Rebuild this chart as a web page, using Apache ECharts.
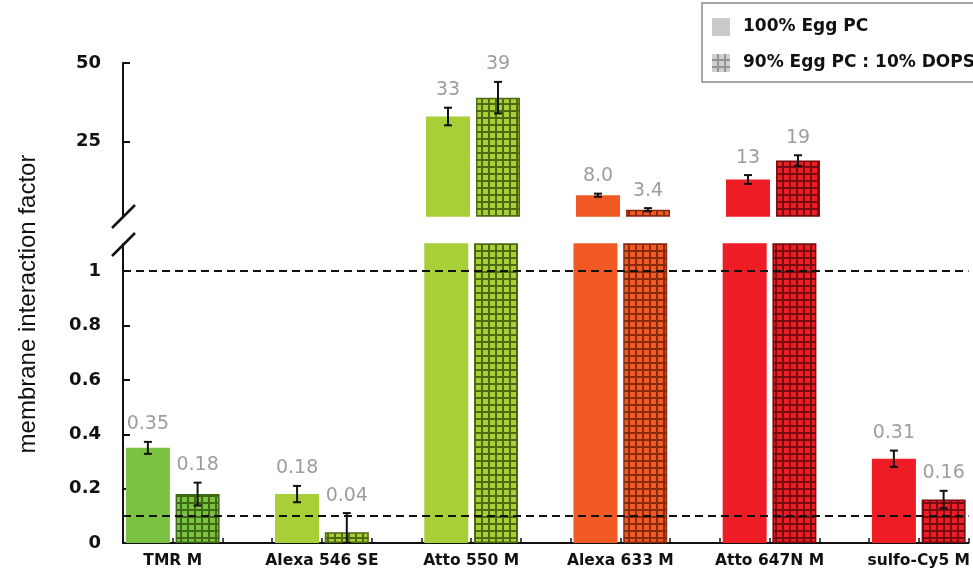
<!DOCTYPE html>
<html>
<head>
<meta charset="utf-8">
<script src="https://cdn.jsdelivr.net/npm/echarts@6/dist/echarts.min.js"></script>
<style>
  html, body { margin: 0; padding: 0; background: #fff; }
  #main { width: 973px; height: 573px; }
</style>
</head>
<body>
<div id="main"></div>
<script>
const groups = ['TMR M', 'Alexa 546 SE', 'Atto 550 M', 'Alexa 633 M', 'Atto 647N M', 'sulfo-Cy5 M']
const eggPC = [0.35, 0.18, 33, 8.0, 13, 0.31]
const eggPCErr = [0.022, 0.03, 2.8, 0.5, 1.4, 0.03]
const eggPCText = ['0.35', '0.18', '33', '8.0', '13', '0.31']
const dops = [0.18, 0.04, 39, 3.4, 19, 0.16]
const dopsErr = [0.042, 0.07, 5, 0.5, 1.7, 0.032]
const dopsText = ['0.18', '0.04', '39', '3.4', '19', '0.16']
const lowerTicks = [0, 0.2, 0.4, 0.6, 0.8, 1]
const upperTicks = [25, 50]
const refLines = [1, 0.1]

const fills = ['#7cc242', '#a8cf38', '#a8cf38', '#f15a24', '#ee1d25', '#ee1d25']
const darks = ['#3e6a16', '#4d6a10', '#4d6a10', '#8a2a0a', '#760b10', '#760b10']

const lowerMax = 1.1
const upperMin = 1.4
const FONT = 'DejaVu Sans'

function hatch(base, line) {
  const c = document.createElement('canvas')
  c.width = 7
  c.height = 7
  const ctx = c.getContext('2d')
  ctx.fillStyle = base
  ctx.fillRect(0, 0, 7, 7)
  ctx.fillStyle = line
  ctx.fillRect(5, 0, 2, 7)
  ctx.fillRect(0, 5, 7, 2)
  return { image: c, repeat: 'repeat' }
}

// build bars / error bars / labels for both panels
const lowerBars = [], upperBars = []
const lowerErr = [], upperErr = []
const lowerLbl = [], upperLbl = []

groups.forEach((g, i) => {
  const pairs = [
    { x: 3 * i + 0.5, v: eggPC[i], e: eggPCErr[i], t: eggPCText[i], color: fills[i], border: fills[i] },
    { x: 3 * i + 1.5, v: dops[i], e: dopsErr[i], t: dopsText[i], color: hatch(fills[i], darks[i]), border: darks[i] }
  ]
  pairs.forEach(p => {
    const style = { color: p.color, borderColor: p.border, borderWidth: 1.5 }
    lowerBars.push({ value: [p.x, p.v], itemStyle: style })
    if (p.v > lowerMax) {
      upperBars.push({ value: [p.x, p.v], itemStyle: style })
      upperErr.push([p.x, p.v - p.e, p.v + p.e])
      upperLbl.push({ value: [p.x, p.v + p.e], name: p.t })
    } else {
      lowerErr.push([p.x, Math.max(0, p.v - p.e), p.v + p.e])
      lowerLbl.push({ value: [p.x, p.v + p.e], name: p.t })
    }
  })
})

function renderErr(params, api) {
  const x = api.value(0)
  const top = api.coord([x, api.value(2)])
  const bot = api.coord([x, api.value(1)])
  const w = 4
  const st = { stroke: '#111', lineWidth: 2 }
  return {
    type: 'group',
    children: [
      { type: 'line', shape: { x1: top[0], y1: top[1], x2: bot[0], y2: bot[1] }, style: st },
      { type: 'line', shape: { x1: top[0] - w, y1: top[1], x2: top[0] + w, y2: top[1] }, style: st },
      { type: 'line', shape: { x1: bot[0] - w, y1: bot[1], x2: bot[0] + w, y2: bot[1] }, style: st }
    ]
  }
}

const labelSeries = (data, xi, yi) => ({
  type: 'scatter',
  xAxisIndex: xi,
  yAxisIndex: yi,
  data: data,
  symbolSize: 0,
  silent: true,
  z: 5,
  label: {
    show: true,
    position: 'top',
    distance: 8,
    formatter: '{b}',
    color: '#858585',
    fontSize: 19,
    fontFamily: FONT
  }
})

const errSeries = (data, xi, yi) => ({
  type: 'custom',
  xAxisIndex: xi,
  yAxisIndex: yi,
  data: data,
  encode: { x: 0, y: [1, 2] },
  renderItem: renderErr,
  silent: true,
  z: 4
})

const chart = echarts.init(document.getElementById('main'))
const option = {
  animation: false,
  legend: {
    left: 702,
    top: 3,
    orient: 'vertical',
    icon: 'rect',
    itemWidth: 18,
    itemHeight: 18,
    itemGap: 18,
    padding: [15, 70, 10, 10],
    borderColor: '#8a8a8a',
    borderWidth: 1.5,
    selectedMode: false,
    textStyle: { color: '#111', fontSize: 17, fontWeight: 'bold', fontFamily: FONT, padding: [0, 0, 0, 8] },
    data: [
      { name: '100% Egg PC', itemStyle: { color: '#bdbdbd', borderWidth: 0 } },
      { name: '90% Egg PC : 10% DOPS', itemStyle: { color: hatch('#c4c4c4', '#7a7a7a'), borderWidth: 0 } }
    ]
  },
  graphic: [
    { type: 'line', shape: { x1: 112, y1: 228, x2: 135, y2: 205 }, style: { stroke: '#111', lineWidth: 2.5 } },
    { type: 'line', shape: { x1: 112, y1: 256, x2: 135, y2: 233 }, style: { stroke: '#111', lineWidth: 2.5 } },
    {
      type: 'text', x: 28, y: 304, rotation: Math.PI / 2,
      style: {
        text: 'membrane interaction factor', fontSize: 24, fontFamily: 'Liberation Sans',
        fill: '#111', textAlign: 'center', textVerticalAlign: 'middle'
      }
    }
  ],
  grid: [
    { left: 123, right: 0, top: 244, bottom: 30 },
    { left: 123, right: 0, top: 63, height: 153 }
  ],
  xAxis: [
    {
      type: 'value', gridIndex: 0, min: 0, max: 17, interval: 1,
      axisLine: { lineStyle: { color: '#111', width: 2 } },
      axisTick: { inside: true, length: 5, lineStyle: { color: '#111', width: 1.5 } },
      splitLine: { show: false },
      axisLabel: {
        customValues: [1, 4, 7, 10, 13, 16],
        formatter: v => groups[Math.round((v - 1) / 3)],
        margin: 10,
        color: '#111',
        fontSize: 15.5,
        fontWeight: 'bold',
        fontFamily: FONT
      }
    },
    {
      type: 'value', gridIndex: 1, min: 0, max: 17, show: false
    }
  ],
  yAxis: [
    {
      type: 'value', gridIndex: 0, min: 0, max: lowerMax,
      axisLine: { show: true, lineStyle: { color: '#111', width: 2 } },
      axisTick: { show: true, inside: true, length: 7, customValues: lowerTicks, lineStyle: { color: '#111', width: 2 } },
      splitLine: { show: false },
      axisLabel: {
        customValues: lowerTicks,
        formatter: v => String(+v.toFixed(1)),
        margin: 22,
        color: '#111',
        fontSize: 18,
        fontWeight: 'bold',
        fontFamily: FONT
      }
    },
    {
      type: 'value', gridIndex: 1, min: upperMin, max: 50,
      axisLine: { show: true, lineStyle: { color: '#111', width: 2 } },
      axisTick: { show: true, inside: true, length: 7, customValues: upperTicks, lineStyle: { color: '#111', width: 2 } },
      splitLine: { show: false },
      axisLabel: {
        customValues: upperTicks,
        margin: 22,
        color: '#111',
        fontSize: 18,
        fontWeight: 'bold',
        fontFamily: FONT
      }
    }
  ],
  series: [
    {
      type: 'bar', xAxisIndex: 0, yAxisIndex: 0, barWidth: 44, data: lowerBars, clip: true,
      markLine: {
        silent: true,
        symbol: 'none',
        label: { show: false },
        lineStyle: { color: '#111', width: 2, type: [8, 5] },
        data: refLines.map(v => ({ yAxis: v }))
      }
    },
    { type: 'bar', xAxisIndex: 1, yAxisIndex: 1, barWidth: 44, data: upperBars, clip: true },
    errSeries(lowerErr, 0, 0),
    errSeries(upperErr, 1, 1),
    labelSeries(lowerLbl, 0, 0),
    labelSeries(upperLbl, 1, 1),
    { type: 'scatter', name: '100% Egg PC', data: [] },
    { type: 'scatter', name: '90% Egg PC : 10% DOPS', data: [] }
  ]
}
chart.setOption(option)
</script>
</body>
</html>
